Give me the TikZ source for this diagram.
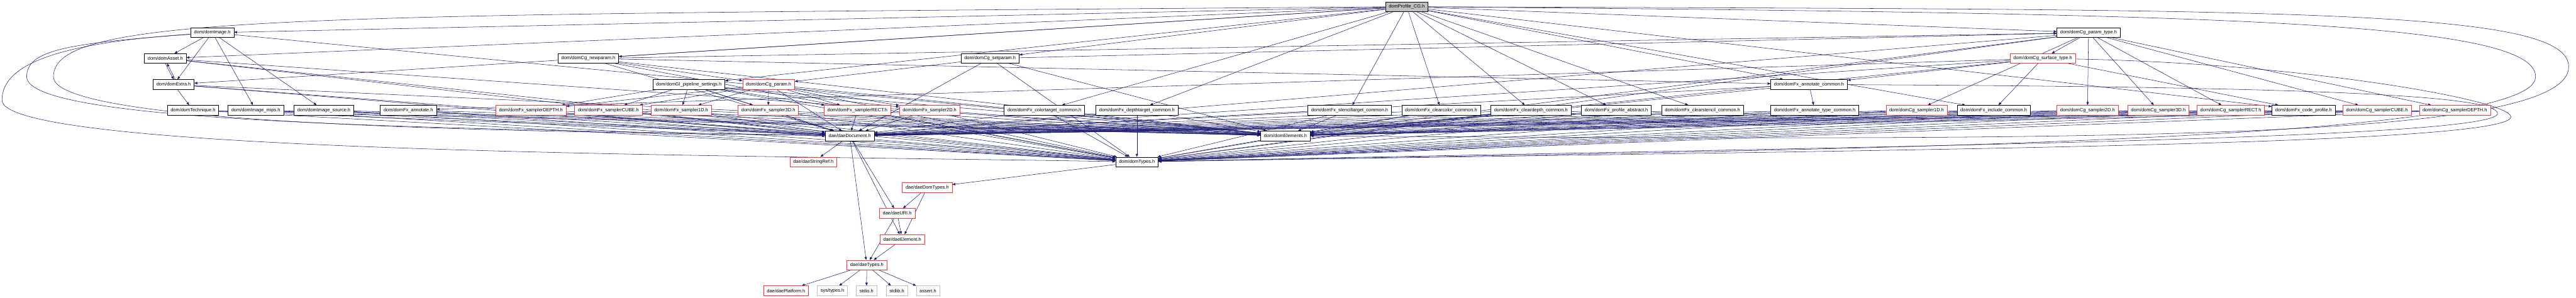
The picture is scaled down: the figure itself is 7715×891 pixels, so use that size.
\documentclass[tikz,border=0pt]{standalone}
\usepackage{fontspec}
\setmainfont{Liberation Sans}
\usetikzlibrary{arrows.meta}
\definecolor{edgeblue}{HTML}{191970}
\definecolor{hidered}{HTML}{FF3030}
\definecolor{sysgray}{HTML}{BFBFBF}
\pgfdeclarelayer{edges}
\pgfsetlayers{edges,main}

\begin{document}
\begin{tikzpicture}[
  x=1pt, y=-1pt,
  >={Triangle[length=9pt,width=7pt]},
  file/.style  = {draw=black, fill=white, rectangle, line width=1pt, minimum height=29pt,
                  inner xsep=10pt, inner ysep=0pt, font=\fontsize{14}{16}\selectfont},
  trunc/.style = {file, draw=hidered},
  sys/.style   = {file, draw=sysgray},
  root/.style  = {file, fill=sysgray},
  inc/.style   = {->, draw=edgeblue, line width=1pt},
]
  \useasboundingbox (0,0) rectangle (7715,891);

  \node[root]  (profile)       at (4213,20)  {domProfile\_CG.h};

  \node[file]  (image)         at (636,98)   {dom/domImage.h};
  \node[file]  (paramtype)     at (6255,98)  {dom/domCg\_param\_type.h};

  \node[file]  (asset)         at (495,175)  {dom/domAsset.h};
  \node[file]  (newparam)      at (1762,175) {dom/domCg\_newparam.h};
  \node[file]  (setparam)      at (2965,175) {dom/domCg\_setparam.h};
  \node[trunc] (surface)       at (6118,175) {dom/domCg\_surface\_type.h};

  \node[file]  (extra)         at (520,253)  {dom/domExtra.h};
  \node[file]  (glpipe)        at (2063,253) {dom/domGl\_pipeline\_settings.h};
  \node[trunc] (cgparam)       at (2302,253) {dom/domCg\_param.h};
  \node[file]  (annotcommon)   at (5418,253) {dom/domFx\_annotate\_common.h};

  \node[file]  (technique)     at (578,330)  {dom/domTechnique.h};
  \node[file]  (imagemips)     at (766,330)  {dom/domImage\_mips.h};
  \node[file]  (imagesource)   at (970,330)  {dom/domImage\_source.h};
  \node[file]  (fxannotate)    at (1223,330) {dom/domFx\_annotate.h};
  \node[trunc] (fxsDEPTH)      at (1590,330) {dom/domFx\_samplerDEPTH.h};
  \node[trunc] (fxsCUBE)       at (1822,330) {dom/domFx\_samplerCUBE.h};
  \node[trunc] (fxs1D)         at (2040,330) {dom/domFx\_sampler1D.h};
  \node[trunc] (fxs3D)         at (2301,330) {dom/domFx\_sampler3D.h};
  \node[trunc] (fxsRECT)       at (2568,330) {dom/domFx\_samplerRECT.h};
  \node[trunc] (fxs2D)         at (2784,330) {dom/domFx\_sampler2D.h};
  \node[file]  (colortarget)   at (3128,330) {dom/domFx\_colortarget\_common.h};
  \node[file]  (depthtarget)   at (3405,330) {dom/domFx\_depthtarget\_common.h};
  \node[file]  (stenciltarget) at (4042,330) {dom/domFx\_stenciltarget\_common.h};
  \node[file]  (clearcolor)    at (4316,330) {dom/domFx\_clearcolor\_common.h};
  \node[file]  (cleardepth)    at (4585,330) {dom/domFx\_cleardepth\_common.h};
  \node[file]  (profabstract)  at (4841,330) {dom/domFx\_profile\_abstract.h};
  \node[file]  (clearstencil)  at (5099,330) {dom/domFx\_clearstencil\_common.h};
  \node[file]  (annottype)     at (5435,330) {dom/domFx\_annotate\_type\_common.h};
  \node[trunc] (cgs1D)         at (5740,330) {dom/domCg\_sampler1D.h};
  \node[file]  (include)       at (5971,330) {dom/domFx\_include\_common.h};
  \node[trunc] (cgs2D)         at (6252,330) {dom/domCg\_sampler2D.h};
  \node[trunc] (cgs3D)         at (6464,330) {dom/domCg\_sampler3D.h};
  \node[trunc] (cgsRECT)       at (6681,330) {dom/domCg\_samplerRECT.h};
  \node[file]  (codeprofile)   at (6899,330) {dom/domFx\_code\_profile.h};
  \node[trunc] (cgsCUBE)       at (7119,330) {dom/domCg\_samplerCUBE.h};
  \node[trunc] (cgsDEPTH)      at (7352,330) {dom/domCg\_samplerDEPTH.h};

  \node[file]  (document)      at (2545,407) {dae/daeDocument.h};
  \node[file]  (elements)      at (3850,407) {dom/domElements.h};
  \node[trunc] (stringref)     at (2436,485) {dae/daeStringRef.h};
  \node[file]  (types)         at (3405,485) {dom/domTypes.h};
  \node[trunc] (daedomtypes)   at (2777,562) {dae/daeDomTypes.h};
  \node[trunc] (uri)           at (2687,639) {dae/daeURI.h};
  \node[trunc] (daeelement)    at (2702,717) {dae/daeElement.h};
  \node[trunc] (daetypes)      at (2596,794) {dae/daeTypes.h};
  \node[trunc] (platform)      at (2354,871) {dae/daePlatform.h};
  \node[sys]   (systypes)      at (2493,871) {sys/types.h};
  \node[sys]   (stdio)         at (2595,871) {stdio.h};
  \node[sys]   (stdlib)        at (2686,871) {stdlib.h};
  \node[sys]   (assert)        at (2779,871) {assert.h};

  \begin{pgfonlayer}{edges}
    \foreach \to in {image, asset, extra, newparam, setparam, glpipe, paramtype, annotcommon,
                     colortarget, depthtarget, stenciltarget, clearcolor, cleardepth,
                     profabstract, clearstencil, include, codeprofile}
      \draw[inc] (profile) -- (\to);
    \draw[inc] (profile) .. controls (900,45) and (160,40) .. (160,230)
                         .. controls (160,380) and (1600,395) .. (document);
    \draw[inc] (profile) .. controls (6600,40) and (7594,60) .. (7594,230)
                         .. controls (7594,440) and (5200,450) .. (types);
    \draw[inc] (profile) .. controls (6800,30) and (7693,20) .. (7693,200)
                         .. controls (7693,430) and (6200,420) .. (elements);

    \draw[inc] (image) -- (asset);
    \draw[inc] (image) -- (extra);
    \draw[inc] (image) -- (imagemips);
    \draw[inc] (image) -- (imagesource);
    \draw[inc] (image) .. controls (200,130) and (80,150) .. (80,230)
                       .. controls (80,370) and (1300,385) .. (document);
    \draw[inc] (image) .. controls (150,130) and (6,200) .. (6,300)
                       .. controls (6,460) and (2200,465) .. (types);
    \draw[inc] (image) -- (elements);

    \draw[inc] (asset.south) -- (extra.north);
    \draw[inc] ([xshift=5pt]extra.north) -- ([xshift=5pt]asset.south);
    \draw[inc] (extra) -- (technique);

    \draw[inc] (newparam) -- (cgparam);
    \draw[inc] (newparam) -- (annotcommon);
    \draw[inc] (newparam) -- (paramtype);
    \draw[inc] (setparam) -- (cgparam);
    \draw[inc] (setparam) -- (paramtype);

    \foreach \to in {fxsDEPTH, fxsCUBE, fxs1D, fxs3D, fxsRECT, fxs2D} {
      \draw[inc] (glpipe) -- (\to);
      \draw[inc] (cgparam) -- (\to);
    }

    \foreach \to in {surface, cgs1D, cgs2D, cgs3D, cgsRECT, cgsCUBE, cgsDEPTH}
      \draw[inc] (paramtype) -- (\to);
    \foreach \to in {annotcommon, include, codeprofile, fxannotate}
      \draw[inc] (surface) -- (\to);
    \draw[inc] (annotcommon) -- (annottype);

    \foreach \src in {asset, extra, newparam, setparam, glpipe, cgparam, paramtype,
                      technique, imagemips, imagesource, fxannotate, fxsDEPTH, fxsCUBE,
                      fxs1D, fxs3D, fxsRECT, fxs2D, colortarget, depthtarget,
                      stenciltarget, clearcolor, cleardepth, profabstract, clearstencil,
                      annottype, cgs1D, include, cgs2D, cgs3D, cgsRECT, codeprofile,
                      cgsCUBE, cgsDEPTH} {
      \draw[inc] (\src) -- (document);
      \draw[inc] (\src) -- (types);
      \draw[inc] (\src) -- (elements);
    }
    \foreach \src in {annotcommon, surface} {
      \draw[inc] (\src) -- (document);
      \draw[inc] (\src) -- (elements);
    }
    \draw[inc] (annotcommon) .. controls (6800,260) and (7480,280) .. (7480,340)
                             .. controls (7480,420) and (5500,440) .. (types);
    \draw[inc] (surface) .. controls (6900,190) and (7520,300) .. (7520,350)
                         .. controls (7520,440) and (5500,450) .. (types);

    \draw[inc] (document) -- (stringref);
    \draw[inc] (document) -- (uri);
    \draw[inc] (document) -- (daeelement);
    \draw[inc] (document) -- (daetypes);
    \draw[inc] (elements) -- (types);
    \draw[inc] (types) -- (daedomtypes);
    \draw[inc] (daedomtypes) -- (uri);
    \draw[inc] (daedomtypes) -- (daeelement);
    \draw[inc] (uri) -- (daeelement);
    \draw[inc] (uri) -- (daetypes);
    \draw[inc] (daeelement) -- (daetypes);
    \foreach \to in {platform, systypes, stdio, stdlib, assert}
      \draw[inc] (daetypes) -- (\to);
  \end{pgfonlayer}
\end{tikzpicture}
\end{document}
